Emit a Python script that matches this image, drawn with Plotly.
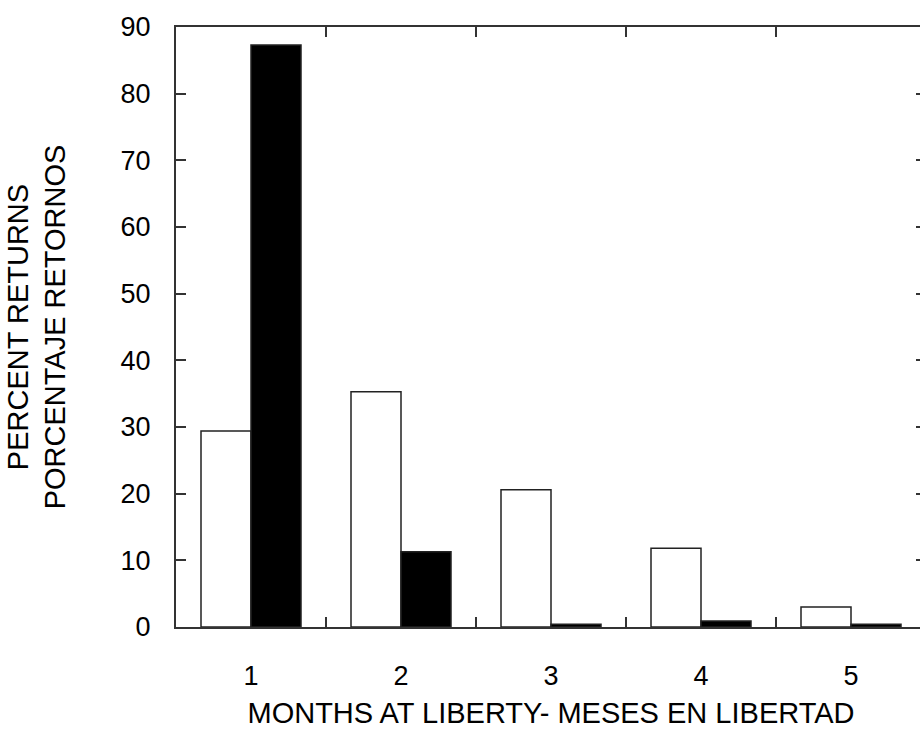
import plotly.graph_objects as go

months = [1, 2, 3, 4, 5]
tick_labels = ["1", "2", "3", "4", "5"]
series_open = [29.4, 35.3, 20.6, 11.8, 3.0]
series_filled = [87.3, 11.3, 0.4, 0.9, 0.4]
y_ticks = [0, 10, 20, 30, 40, 50, 60, 70, 80, 90]
between_ticks = [1.5, 2.5, 3.5, 4.5]

FONT = "Liberation Sans, Arial, Helvetica, sans-serif"
LINE = "#333333"

fig = go.Figure()
fig.add_trace(go.Bar(x=months, y=series_open, name="A",
                     marker=dict(color="white", line=dict(color="#222222", width=1.5))))
fig.add_trace(go.Bar(x=months, y=series_filled, name="B",
                     marker=dict(color="black", line=dict(color="#222222", width=1.5))))

fig.update_layout(
    width=940, height=736,
    margin=dict(l=176, r=14, t=17, b=108),
    paper_bgcolor="white", plot_bgcolor="white",
    barmode="group", bargap=1/3, bargroupgap=0,
    showlegend=False,
    font=dict(family=FONT, color="black", size=27),
)
fig.update_xaxes(
    range=[0.5, 5.5], tickvals=months, ticktext=tick_labels,
    ticks="", showgrid=False, zeroline=False,
    showline=True, linecolor=LINE, linewidth=2, mirror="ticks",
    minor=dict(tickvals=between_ticks, ticks="inside", ticklen=10,
               tickwidth=2, tickcolor=LINE, showgrid=False),
    tickfont=dict(size=27), ticklabelstandoff=24,
    title=dict(text="MONTHS AT LIBERTY- MESES EN LIBERTAD", font=dict(size=29), standoff=12),
)
fig.update_yaxes(
    range=[0, 90], tickvals=y_ticks,
    ticks="inside", ticklen=10, tickwidth=2, tickcolor=LINE,
    showgrid=False, zeroline=False,
    showline=True, linecolor=LINE, linewidth=2, mirror="ticks",
    tickfont=dict(size=27), ticklabelstandoff=18,
    title=dict(text="PERCENT RETURNS<br>PORCENTAJE RETORNOS", font=dict(size=29), standoff=46),
)

fig.write_html("out.html")
